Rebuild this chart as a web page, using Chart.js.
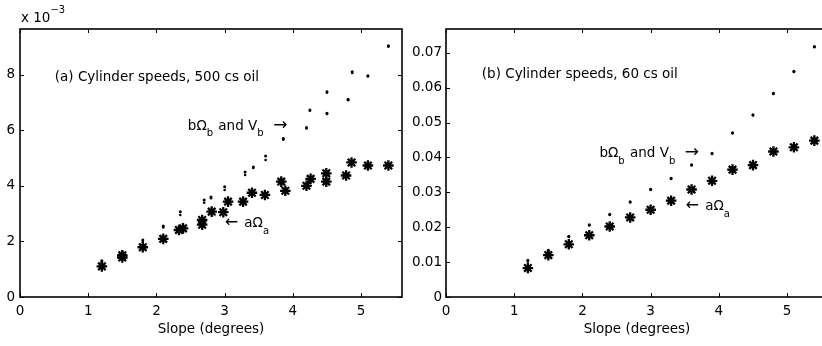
<!DOCTYPE html>
<html><head><meta charset="utf-8">
<script src="https://cdn.jsdelivr.net/npm/chart.js@4"></script>
<style>
html,body{margin:0;padding:0;background:#fff;overflow:hidden;width:822px;height:346px;position:relative}
canvas{position:absolute;top:0}
</style></head>
<body>
<canvas id="c1" width="410" height="346" style="left:0"></canvas>
<canvas id="c2" width="440" height="346" style="left:410px"></canvas>
<script>
// ---- Data: panel (a) 500 cs oil (values in units of 1e-3) ----
const slopeA500 = [1.2,1.5,1.5,1.8,2.1,2.33,2.39,2.67,2.67,2.81,2.98,3.05,3.27,3.4,3.59,3.83,3.89,4.2,4.26,4.49,4.49,4.78,4.86,5.1,5.4];
const aOmega500 = [1.1,1.42,1.5,1.79,2.09,2.41,2.47,2.6,2.77,3.07,3.05,3.43,3.43,3.75,3.67,4.15,3.82,4.0,4.25,4.45,4.15,4.37,4.84,4.73,4.73];
const slopeB500 = [1.2,1.5,1.8,2.1,2.35,2.7,2.8,3.0,3.3,3.42,3.6,3.86,4.2,4.25,4.5,4.5,4.81,4.87,5.1,5.4];
const bOmega500 = [1.3,1.62,2.05,2.55,3.07,3.49,3.6,3.97,4.5,4.68,5.07,5.7,6.1,6.73,6.61,7.38,7.11,8.1,7.96,9.04];
const vB500     = [1.25,1.58,1.98,2.5,2.95,3.39,3.55,3.85,4.39,4.64,4.93,5.66,6.06,6.7,6.58,7.35,7.08,8.06,7.93,9.0];
// ---- Data: panel (b) 60 cs oil ----
const slopeA60 = [1.2,1.5,1.8,2.1,2.4,2.7,3.0,3.3,3.6,3.9,4.2,4.5,4.8,5.1,5.4];
const aOmega60 = [0.0083,0.012,0.0151,0.0177,0.0202,0.0228,0.025,0.0276,0.0308,0.0333,0.0365,0.0378,0.0417,0.0429,0.0448];
const slopeB60 = [1.2,1.5,1.8,2.1,2.4,2.7,3.0,3.3,3.6,3.9,4.2,4.5,4.8,5.1,5.4];
const bOmega60 = [0.0105,0.0134,0.0174,0.0207,0.0237,0.0273,0.0309,0.034,0.0379,0.0412,0.0471,0.0522,0.0584,0.0647,0.0718];
const vB60     = [0.0102,0.0132,0.0172,0.0205,0.0235,0.0271,0.0307,0.0338,0.0377,0.041,0.0469,0.052,0.0582,0.0645,0.0716];
// ---- Tick labels ----
const xTicks = [0,1,2,3,4,5];
const yTicks500 = [0,2,4,6,8];
const yTicks60 = [0,0.01,0.02,0.03,0.04,0.05,0.06,0.07];

const FONT = "'DejaVu Sans', 'Liberation Sans', sans-serif";
Chart.defaults.font.family = FONT;
Chart.defaults.font.size = 13.5;
Chart.defaults.color = '#000';

const pts = (xs, ys) => xs.map((x, i) => ({x, y: ys[i]}));

const framePlugin = {
  id: 'frame',
  afterDraw(chart, args, opts) {
    const {ctx, chartArea: a, scales: {x, y}} = chart;
    ctx.save();
    ctx.strokeStyle = '#000';
    ctx.lineWidth = 1;
    const L = 4;
    ctx.beginPath();
    x.ticks.forEach(t => {
      const p = Math.round(x.getPixelForValue(t.value)) + 0.5;
      ctx.moveTo(p, a.bottom); ctx.lineTo(p, a.bottom - L);
      ctx.moveTo(p, a.top); ctx.lineTo(p, a.top + L);
    });
    y.ticks.forEach(t => {
      const p = Math.round(y.getPixelForValue(t.value)) + 0.5;
      ctx.moveTo(a.left, p); ctx.lineTo(a.left + L, p);
      ctx.moveTo(a.right, p); ctx.lineTo(a.right - L, p);
    });
    ctx.stroke();
    ctx.lineWidth = 1.6;
    ctx.strokeRect(a.left, a.top, a.right - a.left, a.bottom - a.top);
    // annotations
    ctx.fillStyle = '#000';
    ctx.textBaseline = 'alphabetic';
    ctx.textAlign = 'left';
    (opts.items || []).forEach(it => {
      let cx = it.px !== undefined ? a.left + it.px : x.getPixelForValue(it.x);
      const cy = it.py !== undefined ? a.top + it.py : y.getPixelForValue(it.y);
      it.runs.forEach(r => {
        ctx.font = `${r.size || 13.5}px ${FONT}`;
        ctx.fillText(r.t, cx, cy + (r.dy || 0));
        cx += ctx.measureText(r.t).width + (r.gap || 0);
      });
    });
    ctx.restore();
  }
};

function makeChart(id, cfg) {
  return new Chart(document.getElementById(id), {
    type: 'scatter',
    data: {
      datasets: [
        {data: pts(cfg.xa, cfg.ya), pointStyle: 'star', pointRadius: 5.3, borderColor: '#000', borderWidth: 2.3, backgroundColor: '#000'},
        {data: pts(cfg.xb, cfg.yb), pointStyle: 'circle', pointRadius: 1.5, borderWidth: 0, backgroundColor: '#000'},
        {data: pts(cfg.xb, cfg.yv), pointStyle: 'circle', pointRadius: 1.3, borderWidth: 0, backgroundColor: '#000'}
      ]
    },
    options: {
      responsive: false,
      animation: false,
      events: [],
      layout: {padding: cfg.padding},
      plugins: {legend: {display: false}, tooltip: {enabled: false}, frame: {items: cfg.items}},
      scales: {
        x: {
          type: 'linear', min: 0, max: 5.6,
          grid: {display: false, drawTicks: false}, border: {display: false},
          ticks: {padding: 6, maxRotation: 0, callback: v => String(v)},
          title: {display: true, text: 'Slope (degrees)', padding: 0},
          afterBuildTicks: s => { s.ticks = xTicks.map(v => ({value: v})); },
          afterFit: s => { s.height = 41; }
        },
        y: {
          type: 'linear', min: 0, max: cfg.ymax,
          grid: {display: false, drawTicks: false}, border: {display: false},
          ticks: {padding: cfg.ypad, callback: cfg.yfmt},
          afterBuildTicks: s => { s.ticks = cfg.yticks.map(v => ({value: v})); },
          afterFit: s => { s.width = cfg.ywidth; }
        }
      }
    },
    plugins: [framePlugin]
  });
}

const bLabel = [{t: 'b\u03A9'}, {t: 'b', size: 10, dy: 6.5, gap: 1}, {t: ' and V'}, {t: 'b', size: 10, dy: 6.5, gap: 1}, {t: '  '}, {t: '\u2192', size: 17}];
const aLabel = [{t: '\u2190', size: 16, gap: 2}, {t: ' a\u03A9'}, {t: 'a', size: 10, dy: 7}];

makeChart('c1', {
  xa: slopeA500, ya: aOmega500, xb: slopeB500, yb: bOmega500, yv: vB500,
  ymax: 9.64, yticks: yTicks500, ywidth: 20, ypad: 5,
  yfmt: v => String(v),
  padding: {left: 0, top: 29, right: 8, bottom: 8},
  items: [
    {px: 1, py: -7, runs: [{t: 'x 10'}, {t: '\u22123', size: 10, dy: -9}]},
    {x: 0.51, y: 7.77, runs: [{t: '(a) Cylinder speeds, 500 cs oil'}]},
    {x: 2.46, y: 6.01, runs: bLabel},
    {x: 3.0, y: 2.53, runs: aLabel}
  ]
});

makeChart('c2', {
  xa: slopeA60, ya: aOmega60, xb: slopeB60, yb: bOmega60, yv: vB60,
  ymax: 0.0768, yticks: yTicks60, ywidth: 36, ypad: 4,
  yfmt: v => (v === 0 ? '0' : v.toFixed(2)),
  padding: {left: 0, top: 29, right: 22, bottom: 8},
  items: [
    {x: 0.525, y: 0.0627, runs: [{t: '(b) Cylinder speeds, 60 cs oil'}]},
    {x: 2.25, y: 0.0401, runs: bLabel},
    {x: 3.51, y: 0.02506, runs: aLabel}
  ]
});
</script>
</body></html>
